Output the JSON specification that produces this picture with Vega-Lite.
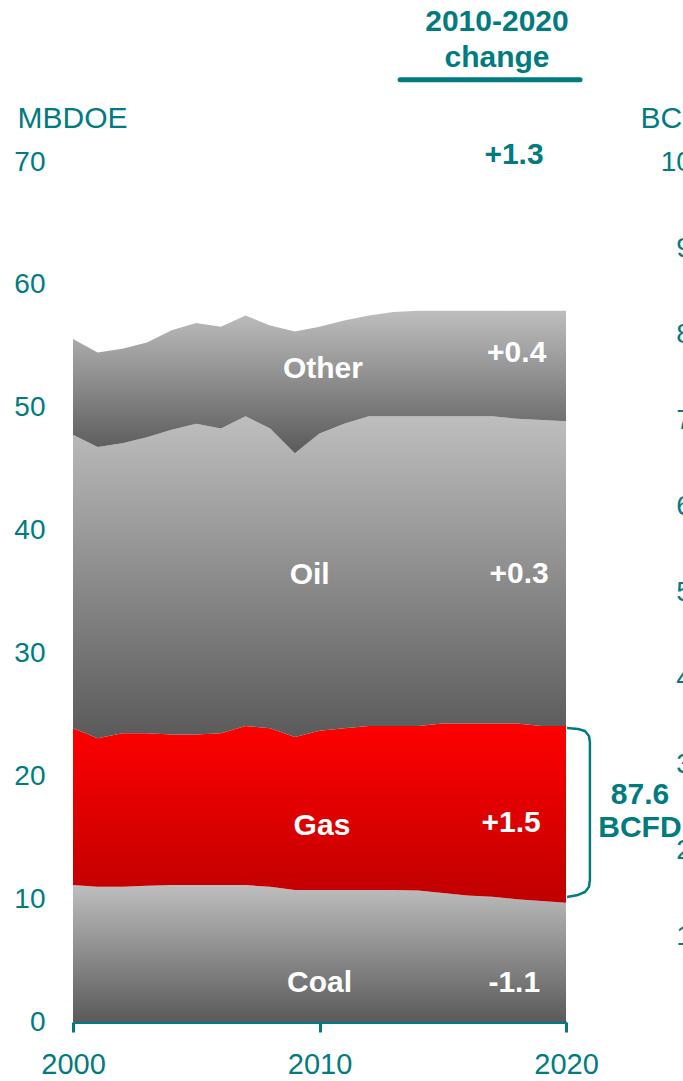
{
  "$schema": "https://vega.github.io/schema/vega-lite/v6.json",
  "width": 493,
  "height": 860,
  "autosize": {"type": "none"},
  "padding": {"left": 73, "top": 162, "right": 117, "bottom": 59},
  "background": "white",
  "config": {
    "view": {"stroke": null},
    "font": "Liberation Sans",
    "axis": {"grid": false, "labelFont": "Liberation Sans", "titleFont": "Liberation Sans", "labelColor": "#017b80", "titleColor": "#017b80"}
  },
  "datasets": {
    "energy": [
      {"year": 2000, "fuel": "Coal", "value": 11.15}, {"year": 2000, "fuel": "Gas", "value": 12.75}, {"year": 2000, "fuel": "Oil", "value": 23.9}, {"year": 2000, "fuel": "Other", "value": 7.8},
      {"year": 2001, "fuel": "Coal", "value": 11.0}, {"year": 2001, "fuel": "Gas", "value": 12.1}, {"year": 2001, "fuel": "Oil", "value": 23.7}, {"year": 2001, "fuel": "Other", "value": 7.7},
      {"year": 2002, "fuel": "Coal", "value": 11.0}, {"year": 2002, "fuel": "Gas", "value": 12.5}, {"year": 2002, "fuel": "Oil", "value": 23.6}, {"year": 2002, "fuel": "Other", "value": 7.7},
      {"year": 2003, "fuel": "Coal", "value": 11.1}, {"year": 2003, "fuel": "Gas", "value": 12.4}, {"year": 2003, "fuel": "Oil", "value": 24.1}, {"year": 2003, "fuel": "Other", "value": 7.7},
      {"year": 2004, "fuel": "Coal", "value": 11.15}, {"year": 2004, "fuel": "Gas", "value": 12.25}, {"year": 2004, "fuel": "Oil", "value": 24.8}, {"year": 2004, "fuel": "Other", "value": 8.1},
      {"year": 2005, "fuel": "Coal", "value": 11.15}, {"year": 2005, "fuel": "Gas", "value": 12.25}, {"year": 2005, "fuel": "Oil", "value": 25.3}, {"year": 2005, "fuel": "Other", "value": 8.2},
      {"year": 2006, "fuel": "Coal", "value": 11.15}, {"year": 2006, "fuel": "Gas", "value": 12.35}, {"year": 2006, "fuel": "Oil", "value": 24.8}, {"year": 2006, "fuel": "Other", "value": 8.3},
      {"year": 2007, "fuel": "Coal", "value": 11.15}, {"year": 2007, "fuel": "Gas", "value": 12.95}, {"year": 2007, "fuel": "Oil", "value": 25.2}, {"year": 2007, "fuel": "Other", "value": 8.2},
      {"year": 2008, "fuel": "Coal", "value": 11.0}, {"year": 2008, "fuel": "Gas", "value": 12.9}, {"year": 2008, "fuel": "Oil", "value": 24.4}, {"year": 2008, "fuel": "Other", "value": 8.4},
      {"year": 2009, "fuel": "Coal", "value": 10.75}, {"year": 2009, "fuel": "Gas", "value": 12.45}, {"year": 2009, "fuel": "Oil", "value": 23.1}, {"year": 2009, "fuel": "Other", "value": 9.9},
      {"year": 2010, "fuel": "Coal", "value": 10.75}, {"year": 2010, "fuel": "Gas", "value": 12.95}, {"year": 2010, "fuel": "Oil", "value": 24.2}, {"year": 2010, "fuel": "Other", "value": 8.7},
      {"year": 2011, "fuel": "Coal", "value": 10.75}, {"year": 2011, "fuel": "Gas", "value": 13.15}, {"year": 2011, "fuel": "Oil", "value": 24.8}, {"year": 2011, "fuel": "Other", "value": 8.4},
      {"year": 2012, "fuel": "Coal", "value": 10.75}, {"year": 2012, "fuel": "Gas", "value": 13.35}, {"year": 2012, "fuel": "Oil", "value": 25.2}, {"year": 2012, "fuel": "Other", "value": 8.2},
      {"year": 2013, "fuel": "Coal", "value": 10.75}, {"year": 2013, "fuel": "Gas", "value": 13.35}, {"year": 2013, "fuel": "Oil", "value": 25.2}, {"year": 2013, "fuel": "Other", "value": 8.5},
      {"year": 2014, "fuel": "Coal", "value": 10.7}, {"year": 2014, "fuel": "Gas", "value": 13.4}, {"year": 2014, "fuel": "Oil", "value": 25.2}, {"year": 2014, "fuel": "Other", "value": 8.6},
      {"year": 2015, "fuel": "Coal", "value": 10.5}, {"year": 2015, "fuel": "Gas", "value": 13.8}, {"year": 2015, "fuel": "Oil", "value": 25.0}, {"year": 2015, "fuel": "Other", "value": 8.6},
      {"year": 2016, "fuel": "Coal", "value": 10.3}, {"year": 2016, "fuel": "Gas", "value": 14.0}, {"year": 2016, "fuel": "Oil", "value": 25.0}, {"year": 2016, "fuel": "Other", "value": 8.6},
      {"year": 2017, "fuel": "Coal", "value": 10.2}, {"year": 2017, "fuel": "Gas", "value": 14.1}, {"year": 2017, "fuel": "Oil", "value": 25.0}, {"year": 2017, "fuel": "Other", "value": 8.6},
      {"year": 2018, "fuel": "Coal", "value": 10.0}, {"year": 2018, "fuel": "Gas", "value": 14.3}, {"year": 2018, "fuel": "Oil", "value": 24.8}, {"year": 2018, "fuel": "Other", "value": 8.8},
      {"year": 2019, "fuel": "Coal", "value": 9.85}, {"year": 2019, "fuel": "Gas", "value": 14.25}, {"year": 2019, "fuel": "Oil", "value": 24.9}, {"year": 2019, "fuel": "Other", "value": 8.9},
      {"year": 2020, "fuel": "Coal", "value": 9.7}, {"year": 2020, "fuel": "Gas", "value": 14.4}, {"year": 2020, "fuel": "Oil", "value": 24.8}, {"year": 2020, "fuel": "Other", "value": 9.0}
    ],
    "labels": [
      {"x": 2010.14, "y": 53.15, "text": "Other", "kind": "inside"},
      {"x": 2018.0, "y": 54.45, "text": "+0.4", "kind": "inside"},
      {"x": 2009.6, "y": 36.4, "text": "Oil", "kind": "inside"},
      {"x": 2018.1, "y": 36.5, "text": "+0.3", "kind": "inside"},
      {"x": 2010.1, "y": 15.95, "text": "Gas", "kind": "inside"},
      {"x": 2017.77, "y": 16.2, "text": "+1.5", "kind": "inside"},
      {"x": 2010.0, "y": 3.2, "text": "Coal", "kind": "inside"},
      {"x": 2017.9, "y": 3.2, "text": "-1.1", "kind": "inside"},
      {"x": 2017.2, "y": 81.4, "text": "2010-2020", "kind": "outside"},
      {"x": 2017.2, "y": 78.5, "text": "change", "kind": "outside"},
      {"x": 2017.89, "y": 70.6, "text": "+1.3", "kind": "outside"},
      {"x": 2023.0, "y": 18.5, "text": "87.6", "kind": "outside"},
      {"x": 2023.0, "y": 15.8, "text": "BCFD", "kind": "outside"}
    ],
    "underline": [
      {"x": 2013.27, "x2": 2020.57, "y": 76.7}
    ],
    "bracket": [
      {"ord": 1, "x": 2020.04, "y": 23.93},
      {"ord": 2, "x": 2020.49, "y": 23.85},
      {"ord": 3, "x": 2020.77, "y": 23.69},
      {"ord": 4, "x": 2020.93, "y": 23.28},
      {"ord": 5, "x": 2020.97, "y": 22.79},
      {"ord": 6, "x": 2020.97, "y": 11.56},
      {"ord": 7, "x": 2020.93, "y": 10.99},
      {"ord": 8, "x": 2020.77, "y": 10.58},
      {"ord": 9, "x": 2020.49, "y": 10.34},
      {"ord": 10, "x": 2020.04, "y": 10.17}
    ]
  },
  "resolve": {"scale": {"y": "independent"}},
  "layer": [
    {
      "layer": [
        {
          "data": {"name": "energy"},
          "transform": [
            {"stack": "value", "groupby": ["year"], "sort": [{"field": "fuel", "order": "ascending"}], "as": ["y0", "y1"]}
          ],
          "layer": [
            {
              "transform": [{"filter": "datum.fuel === 'Coal'"}],
              "mark": {"type": "area", "color": {"gradient": "linear", "x1": 0, "y1": 0, "x2": 0, "y2": 1, "stops": [{"offset": 0, "color": "#bebebe"}, {"offset": 1, "color": "#5a5a5a"}]}},
              "encoding": {
                "x": {"field": "year", "type": "quantitative", "scale": {"domain": [2000, 2020], "nice": false, "zero": false},
                  "axis": {"values": [2000, 2010, 2020], "format": "d", "title": null, "domainColor": "#017b80", "domainWidth": 3, "tickColor": "#017b80", "tickWidth": 3, "tickSize": 10, "labelFontSize": 29, "labelPadding": 18, "labelFlush": false}},
                "y": {"field": "y1", "type": "quantitative", "scale": {"domain": [0, 70], "nice": false},
                  "axis": {"values": [0, 10, 20, 30, 40, 50, 60, 70], "title": "MBDOE", "titleAngle": 0, "titleX": -56, "titleY": -35, "titleAlign": "left", "titleBaseline": "alphabetic", "titleFontSize": 30, "titleFontWeight": "normal", "domain": false, "ticks": false, "labelFontSize": 28, "labelPadding": 28, "labelBaseline": "middle"}},
                "y2": {"field": "y0"}
              }
            },
            {
              "transform": [{"filter": "datum.fuel === 'Gas'"}],
              "mark": {"type": "area", "color": {"gradient": "linear", "x1": 0, "y1": 0, "x2": 0, "y2": 1, "stops": [{"offset": 0, "color": "#ff0000"}, {"offset": 1, "color": "#bf0000"}]}},
              "encoding": {
                "x": {"field": "year", "type": "quantitative", "scale": {"domain": [2000, 2020], "nice": false, "zero": false}},
                "y": {"field": "y1", "type": "quantitative", "scale": {"domain": [0, 70], "nice": false}},
                "y2": {"field": "y0"}
              }
            },
            {
              "transform": [{"filter": "datum.fuel === 'Oil'"}],
              "mark": {"type": "area", "color": {"gradient": "linear", "x1": 0, "y1": 0, "x2": 0, "y2": 1, "stops": [{"offset": 0, "color": "#bebebe"}, {"offset": 1, "color": "#5a5a5a"}]}},
              "encoding": {
                "x": {"field": "year", "type": "quantitative", "scale": {"domain": [2000, 2020], "nice": false, "zero": false}},
                "y": {"field": "y1", "type": "quantitative", "scale": {"domain": [0, 70], "nice": false}},
                "y2": {"field": "y0"}
              }
            },
            {
              "transform": [{"filter": "datum.fuel === 'Other'"}],
              "mark": {"type": "area", "color": {"gradient": "linear", "x1": 0, "y1": 0, "x2": 0, "y2": 1, "stops": [{"offset": 0, "color": "#bebebe"}, {"offset": 1, "color": "#5a5a5a"}]}},
              "encoding": {
                "x": {"field": "year", "type": "quantitative", "scale": {"domain": [2000, 2020], "nice": false, "zero": false}},
                "y": {"field": "y1", "type": "quantitative", "scale": {"domain": [0, 70], "nice": false}},
                "y2": {"field": "y0"}
              }
            }
          ]
        },
        {
          "data": {"name": "labels"},
          "transform": [{"filter": "datum.kind === 'inside'"}],
          "mark": {"type": "text", "font": "Liberation Sans", "fontWeight": "bold", "fontSize": 30, "color": "white", "align": "center", "baseline": "middle"},
          "encoding": {
            "x": {"field": "x", "type": "quantitative", "scale": {"domain": [2000, 2020], "nice": false, "zero": false}},
            "y": {"field": "y", "type": "quantitative", "scale": {"domain": [0, 70], "nice": false}},
            "text": {"field": "text"}
          }
        },
        {
          "data": {"name": "labels"},
          "transform": [{"filter": "datum.kind === 'outside'"}],
          "mark": {"type": "text", "font": "Liberation Sans", "fontWeight": "bold", "fontSize": 30, "color": "#017b80", "align": "center", "baseline": "middle"},
          "encoding": {
            "x": {"field": "x", "type": "quantitative", "scale": {"domain": [2000, 2020], "nice": false, "zero": false}},
            "y": {"field": "y", "type": "quantitative", "scale": {"domain": [0, 70], "nice": false}},
            "text": {"field": "text"}
          }
        },
        {
          "data": {"name": "underline"},
          "mark": {"type": "rule", "color": "#017b80", "strokeWidth": 5, "strokeCap": "round"},
          "encoding": {
            "x": {"field": "x", "type": "quantitative", "scale": {"domain": [2000, 2020], "nice": false, "zero": false}},
            "x2": {"field": "x2"},
            "y": {"field": "y", "type": "quantitative", "scale": {"domain": [0, 70], "nice": false}}
          }
        },
        {
          "data": {"name": "bracket"},
          "mark": {"type": "line", "color": "#017b80", "strokeWidth": 2.5, "interpolate": "linear", "strokeJoin": "round"},
          "encoding": {
            "x": {"field": "x", "type": "quantitative", "scale": {"domain": [2000, 2020], "nice": false, "zero": false}},
            "y": {"field": "y", "type": "quantitative", "scale": {"domain": [0, 70], "nice": false}},
            "order": {"field": "ord", "type": "quantitative"}
          }
        }
      ]
    },
    {
      "data": {"name": "energy"},
      "mark": {"type": "point", "opacity": 0},
      "encoding": {
        "x": {"field": "year", "type": "quantitative", "scale": {"domain": [2000, 2020], "nice": false, "zero": false}},
        "y": {"field": "value", "type": "quantitative", "scale": {"domain": [0, 100], "nice": false},
          "axis": {"orient": "right", "values": [0, 10, 20, 30, 40, 50, 60, 70, 80, 90, 100], "title": "BCFD", "titleAngle": 0, "titleX": 74, "titleY": -35, "titleAlign": "left", "titleBaseline": "alphabetic", "titleFontSize": 30, "titleFontWeight": "normal", "domain": false, "ticks": false, "labelFontSize": 28, "labelPadding": 141, "labelAlign": "right", "labelBaseline": "middle"}}
      }
    }
  ]
}
